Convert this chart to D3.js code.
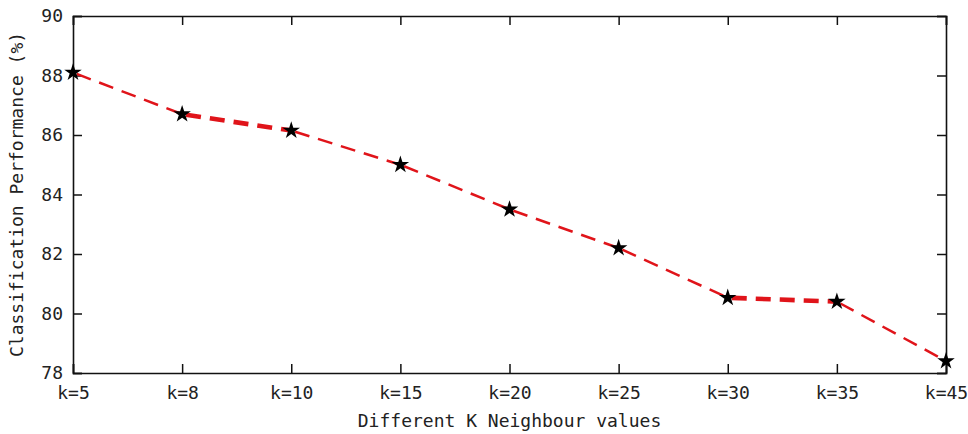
<!DOCTYPE html>
<html><head><meta charset="utf-8">
<script src="https://cdn.jsdelivr.net/npm/d3@7"></script>
<style>
html,body{margin:0;padding:0;background:#fff;}
text{font-family:"DejaVu Sans Mono","Liberation Mono",monospace;fill:#222;}
</style></head>
<body><svg id="c" width="968" height="434"></svg>
<script>
const categories = ["k=5","k=8","k=10","k=15","k=20","k=25","k=30","k=35","k=45"];
const performance = [88.1, 86.7, 86.15, 85.0, 83.5, 82.2, 80.53, 80.4, 78.4];
const yTicks = [78, 80, 82, 84, 86, 88, 90];
const xTitle = "Different K Neighbour values";
const yTitle = "Classification Performance (%)";

const W = 968, H = 434;
const m = {left: 73, right: 22, top: 16, bottom: 61};
const svg = d3.select("#c");
const x = d3.scalePoint().domain(categories).range([m.left, W - m.right]);
const y = d3.scaleLinear().domain([78, 90]).range([H - m.bottom, m.top]);

const tl = 9;
const gx = svg.append("g").attr("transform", `translate(0,${H - m.bottom})`)
  .call(d3.axisBottom(x).tickSize(-tl).tickPadding(16));
const gt = svg.append("g").attr("transform", `translate(0,${m.top})`)
  .call(d3.axisTop(x).tickSize(-tl).tickFormat(""));
const gy = svg.append("g").attr("transform", `translate(${m.left},0)`)
  .call(d3.axisLeft(y).tickValues(yTicks).tickSize(-tl).tickPadding(10).tickFormat(d3.format("d")));
const gr = svg.append("g").attr("transform", `translate(${W - m.right},0)`)
  .call(d3.axisRight(y).tickValues(yTicks).tickSize(-tl).tickFormat(""));

[gx, gt, gy, gr].forEach(g => {
  g.select(".domain").attr("stroke", "#111").attr("stroke-width", 1.6);
  g.selectAll(".tick line").attr("stroke", "#111").attr("stroke-width", 1.5);
  g.selectAll(".tick text").attr("font-size", 18).attr("fill", "#2a2a2a")
    .attr("font-family", "'DejaVu Sans Mono', monospace");
});
gx.selectAll(".tick text").attr("dy", "0.55em");

const pts = categories.map((c, i) => [x(c), y(performance[i])]);
for (let i = 0; i < pts.length - 1; i++) {
  const [x0, y0] = pts[i], [x1, y1] = pts[i + 1];
  const ang = Math.abs(Math.atan2(y1 - y0, x1 - x0)) * 180 / Math.PI;
  const sw = ang < 12 ? 4.6 : 2.5;
  svg.append("line")
    .attr("x1", x0).attr("y1", y0).attr("x2", x1).attr("y2", y1)
    .attr("stroke", "#e0141a").attr("stroke-width", sw)
    .attr("stroke-dasharray", "15,9").attr("stroke-dashoffset", -4);
}

const star = d3.symbol().type(d3.symbolStar).size(95);
svg.append("g").selectAll("path").data(performance).join("path")
  .attr("d", star)
  .attr("transform", (d, i) => `translate(${x(categories[i])},${y(d)})`)
  .attr("fill", "#000");

svg.append("text").attr("x", (m.left + W - m.right) / 2).attr("y", 427)
  .attr("text-anchor", "middle").attr("font-size", 18).attr("fill", "#2a2a2a").text(xTitle);
svg.append("text").attr("transform", `translate(23,${(m.top + H - m.bottom) / 2}) rotate(-90)`)
  .attr("text-anchor", "middle").attr("font-size", 18).attr("fill", "#2a2a2a").text(yTitle);
</script></body></html>
